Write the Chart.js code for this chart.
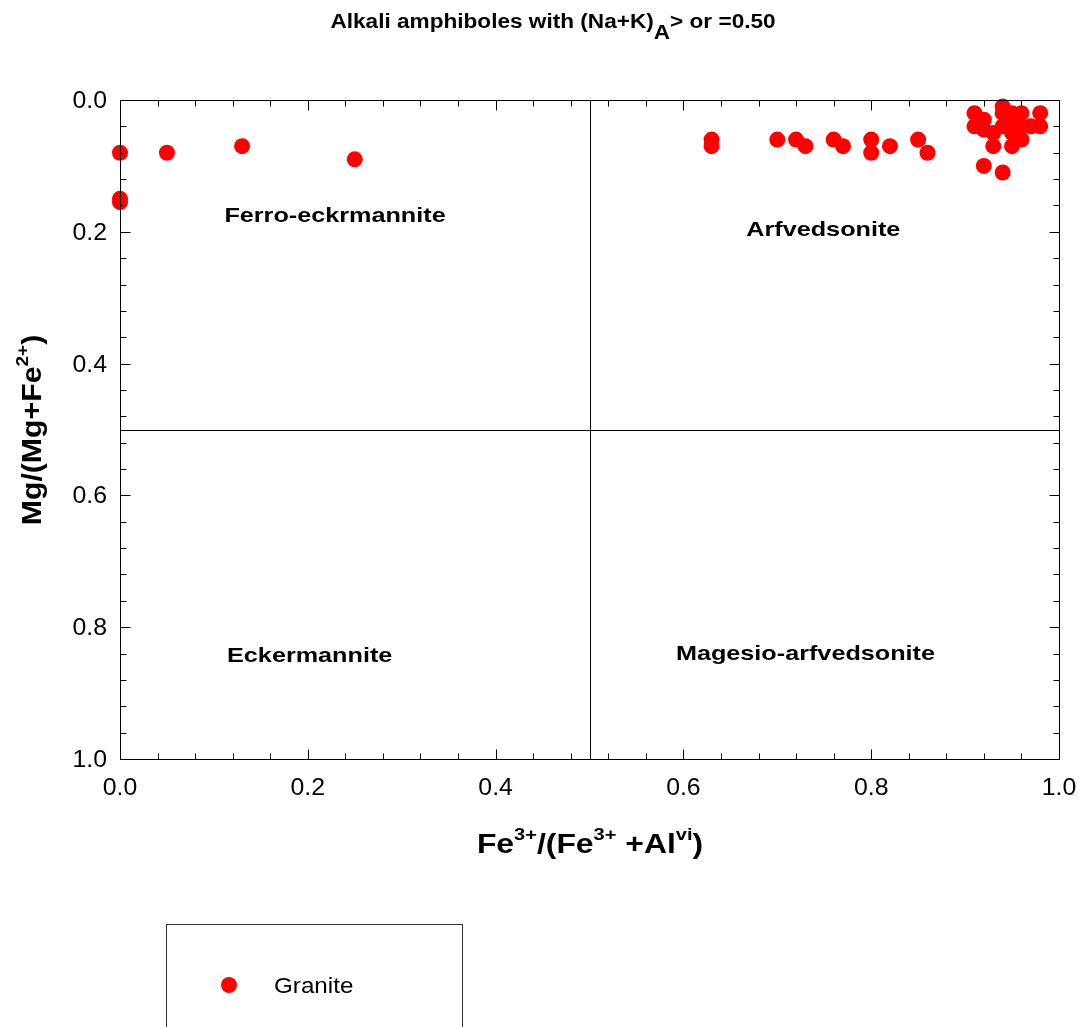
<!DOCTYPE html>
<html>
<head>
<meta charset="utf-8">
<script src="https://cdn.jsdelivr.net/npm/chart.js@4.4.0/dist/chart.umd.min.js"></script>
<style>
  body { margin: 0; background: #fff; }
  #wrap { width: 1081px; height: 1027px; }
</style>
</head>
<body>
<div id="wrap"><canvas id="amphChart" width="1081" height="1027"></canvas></div>
<script>
// Granite analyses: Fe3+/(Fe3+ + Al vi) vs Mg/(Mg+Fe2+)
const graniteX = [0, 0, 0, 0.05, 0.13, 0.25,
  0.63, 0.63, 0.70, 0.72, 0.73, 0.76, 0.77, 0.80, 0.80, 0.82, 0.85, 0.86,
  0.91, 0.91, 0.92, 0.92, 0.93, 0.94, 0.94, 0.94, 0.95, 0.95, 0.95, 0.96, 0.96, 0.97, 0.98, 0.98,
  0.93, 0.95, 0.96, 0.92, 0.94];
const graniteY = [0.08, 0.15, 0.155, 0.08, 0.07, 0.09,
  0.06, 0.07, 0.06, 0.06, 0.07, 0.06, 0.07, 0.06, 0.08, 0.07, 0.06, 0.08,
  0.02, 0.04, 0.03, 0.045, 0.05, 0.01, 0.02, 0.04, 0.02, 0.03, 0.05, 0.02, 0.04, 0.04, 0.02, 0.04,
  0.07, 0.07, 0.06, 0.10, 0.11];

// axis ticks
const xTickValues = [0, 0.2, 0.4, 0.6, 0.8, 1.0];
const xTickLabels = ['0.0', '0.2', '0.4', '0.6', '0.8', '1.0'];
const yTickValues = [0, 0.2, 0.4, 0.6, 0.8, 1.0];
const yTickLabels = ['0.0', '0.2', '0.4', '0.6', '0.8', '1.0'];
const minorStep = 0.04;

// field names and where they sit (data coords)
const fieldNames = ['Ferro-eckrmannite', 'Arfvedsonite', 'Eckermannite', 'Magesio-arfvedsonite'];
const fieldX = [0.229, 0.749, 0.202, 0.73];
const fieldY = [0.173, 0.194, 0.84, 0.838];
const fieldSplit = 0.5;

const FONT = 'Arial, "Liberation Sans", Helvetica, sans-serif';

// draws a run of text pieces (for super/subscripts), stretched a bit horizontally
function drawRich(ctx, parts, x, y, align, sx) {
  let total = 0;
  parts.forEach(p => {
    ctx.font = (p.bold ? 'bold ' : '') + p.size + 'px ' + FONT;
    p.w = ctx.measureText(p.t).width;
    total += p.w;
  });
  let start = align === 'center' ? -total / 2 : (align === 'right' ? -total : 0);
  ctx.save();
  ctx.translate(x, y);
  ctx.scale(sx, 1);
  ctx.textAlign = 'left';
  ctx.textBaseline = 'alphabetic';
  ctx.fillStyle = '#000';
  let cx = start;
  parts.forEach(p => {
    ctx.font = (p.bold ? 'bold ' : '') + p.size + 'px ' + FONT;
    ctx.fillText(p.t, cx, p.dy || 0);
    cx += p.w;
  });
  ctx.restore();
}

const decorPlugin = {
  id: 'decor',
  beforeDatasetsDraw(chart) {
    const ctx = chart.ctx;
    const a = chart.chartArea;
    const xs = chart.scales.x, ys = chart.scales.y;
    ctx.save();
    ctx.strokeStyle = '#000';
    ctx.lineWidth = 1;
    const mx = Math.round(xs.getPixelForValue(fieldSplit)) + 0.5;
    const my = Math.round(ys.getPixelForValue(fieldSplit)) + 0.5;
    ctx.beginPath();
    ctx.moveTo(mx, a.top); ctx.lineTo(mx, a.bottom);
    ctx.moveTo(a.left, my); ctx.lineTo(a.right, my);
    ctx.stroke();
    ctx.restore();

    fieldNames.forEach((name, i) => {
      drawRich(ctx, [{ t: name, size: 21, bold: true }],
        xs.getPixelForValue(fieldX[i]), ys.getPixelForValue(fieldY[i]) + 8, 'center', 1.2);
    });
  },
  afterDatasetsDraw(chart) {
    const ctx = chart.ctx;
    const a = chart.chartArea;
    const xs = chart.scales.x, ys = chart.scales.y;
    ctx.save();
    ctx.strokeStyle = '#000';
    ctx.lineWidth = 1;
    const L = Math.round(a.left) + 0.5, R = Math.round(a.right) + 0.5;
    const T = Math.round(a.top) + 0.5, B = Math.round(a.bottom) + 0.5;
    ctx.strokeRect(L, T, R - L, B - T);

    // inward ticks on all four sides
    ctx.beginPath();
    for (let i = 0; i <= 25; i++) {
      const v = i * minorStep;
      const major = i % 5 === 0;
      const len = major ? 10 : 6;
      const px = Math.round(xs.getPixelForValue(v)) + 0.5;
      ctx.moveTo(px, B); ctx.lineTo(px, B - len);
      ctx.moveTo(px, T); ctx.lineTo(px, T + len);
      const py = Math.round(ys.getPixelForValue(v)) + 0.5;
      ctx.moveTo(L, py); ctx.lineTo(L + len, py);
      ctx.moveTo(R, py); ctx.lineTo(R - len, py);
    }
    ctx.stroke();
    ctx.restore();

    // tick labels
    xTickValues.forEach((v, i) => {
      drawRich(ctx, [{ t: xTickLabels[i], size: 23 }], xs.getPixelForValue(v), a.bottom + 36, 'center', 1.08);
    });
    yTickValues.forEach((v, i) => {
      drawRich(ctx, [{ t: yTickLabels[i], size: 23 }], a.left - 13, ys.getPixelForValue(v) + 8, 'right', 1.08);
    });

    // title
    drawRich(ctx, [
      { t: 'Alkali amphiboles with (Na+K)', size: 20, bold: true },
      { t: 'A', size: 20, bold: true, dy: 11 },
      { t: '> or =0.50', size: 20, bold: true }
    ], 553, 28, 'center', 1.13);

    // x axis title
    drawRich(ctx, [
      { t: 'Fe', size: 27, bold: true },
      { t: '3+', size: 17, bold: true, dy: -13 },
      { t: '/(Fe', size: 27, bold: true },
      { t: '3+', size: 17, bold: true, dy: -13 },
      { t: ' +Al', size: 27, bold: true },
      { t: 'vi', size: 17, bold: true, dy: -13 },
      { t: ')', size: 27, bold: true }
    ], 590, 853, 'center', 1.18);

    // y axis title (rotated)
    ctx.save();
    ctx.translate(41, 430);
    ctx.rotate(-Math.PI / 2);
    drawRich(ctx, [
      { t: 'Mg/(Mg+Fe', size: 27, bold: true },
      { t: '2+', size: 17, bold: true, dy: -13 },
      { t: ')', size: 27, bold: true }
    ], 0, 0, 'center', 1.12);
    ctx.restore();

    // legend box
    ctx.save();
    ctx.strokeStyle = '#333';
    ctx.lineWidth = 1;
    ctx.strokeRect(166.5, 924.5, 296, 140);
    ctx.fillStyle = '#ff0000';
    ctx.beginPath();
    ctx.arc(229, 985, 8, 0, Math.PI * 2);
    ctx.fill();
    ctx.restore();
    drawRich(ctx, [{ t: chart.data.datasets[0].label, size: 22 }], 274, 993, 'left', 1.1);
  }
};

const ctx = document.getElementById('amphChart');
new Chart(ctx, {
  type: 'scatter',
  data: {
    datasets: [{
      label: 'Granite',
      data: graniteX.map((x, i) => ({ x: x, y: graniteY[i] })),
      backgroundColor: '#ff0000',
      borderColor: '#ff0000',
      borderWidth: 0,
      pointRadius: 8,
      pointHoverRadius: 8,
      clip: false
    }]
  },
  options: {
    responsive: false,
    animation: false,
    layout: { padding: { left: 120, top: 100, right: 22, bottom: 268 } },
    plugins: {
      legend: { display: false },
      tooltip: { enabled: false }
    },
    scales: {
      x: { type: 'linear', min: 0, max: 1, display: false },
      y: { type: 'linear', min: 0, max: 1, reverse: true, display: false }
    }
  },
  plugins: [decorPlugin]
});
</script>
</body>
</html>
